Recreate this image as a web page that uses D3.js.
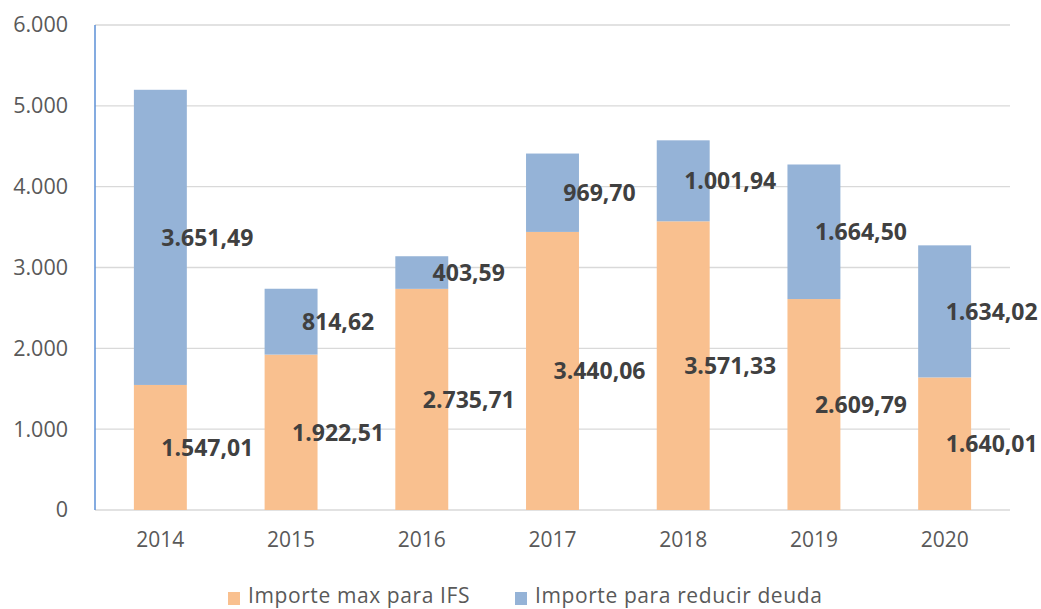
<!DOCTYPE html>
<html><head><meta charset="utf-8">
<script src="https://cdn.jsdelivr.net/npm/d3@7"></script>
<style>body{margin:0;background:#fff;} svg{display:block;}</style>
</head><body>
<svg id="c" width="1041" height="609"></svg>
<script>
const years = ["2014","2015","2016","2017","2018","2019","2020"];
const importeIFS = [1547.01, 1922.51, 2735.71, 3440.06, 3571.33, 2609.79, 1640.01];
const importeDeuda = [3651.49, 814.62, 403.59, 969.70, 1001.94, 1664.50, 1634.02];
const yTicks = [0, 1000, 2000, 3000, 4000, 5000, 6000];
const seriesNames = ["Importe max para IFS", "Importe para reducir deuda"];
const colors = ["#f9c08f", "#95b3d7"];

const svg = d3.select("#c");
const x0 = 95, x1 = 1010, yTop = 25, yBot = 510;
const x = d3.scaleBand().domain(years).range([x0, x1]).paddingInner(0.595).paddingOuter(0.2975);
const y = d3.scaleLinear().domain([0, 6000]).range([yBot, yTop]);

const fmtTick = d => d3.format(",")(d).replace(/,/g, ".");
const fmtVal = v => {
  const s = v.toFixed(2).split(".");
  return s[0].replace(/\B(?=(\d{3})+(?!\d))/g, ".") + "," + s[1];
};

// gridlines
svg.append("g").selectAll("line").data(yTicks).join("line")
  .attr("x1", x0).attr("x2", x1)
  .attr("y1", d => y(d)).attr("y2", d => y(d))
  .attr("stroke", "#d9d9d9").attr("stroke-width", 1.3);

// y tick labels
const yAxis = d3.axisLeft(y).tickValues(yTicks).tickFormat(fmtTick).tickSize(0).tickPadding(27);
const gy = svg.append("g").attr("transform", `translate(${x0},0)`).call(yAxis);
gy.select(".domain").remove();
gy.selectAll("text").attr("font-family", "Open Sans").attr("font-size", 21.5).attr("fill", "#595959");

// x labels
const xAxis = d3.axisBottom(x).tickSize(0).tickPadding(22);
const gx = svg.append("g").attr("transform", `translate(0,${yBot})`).call(xAxis);
gx.select(".domain").remove();
gx.selectAll("text").attr("font-family", "Open Sans").attr("font-size", 21).attr("fill", "#595959");

// bars
const stackData = years.map((yr, i) => ({ year: yr, ifs: importeIFS[i], deuda: importeDeuda[i] }));
const stack = d3.stack().keys(["ifs", "deuda"])(stackData);
const gBars = svg.append("g");
stack.forEach((layer, li) => {
  gBars.selectAll(null).data(layer).join("rect")
    .attr("x", d => x(d.data.year))
    .attr("width", x.bandwidth())
    .attr("y", d => y(d[1]))
    .attr("height", d => y(d[0]) - y(d[1]))
    .attr("fill", colors[li]);
});

// axis line (blue)
svg.append("line").attr("x1", x0).attr("x2", x0).attr("y1", yTop).attr("y2", yBot)
  .attr("stroke", "#5b8fd6").attr("stroke-width", 1.5);

// labels
const labelDx = 47;
stack.forEach((layer, li) => {
  svg.append("g").selectAll("text").data(layer).join("text")
    .attr("x", d => x(d.data.year) + x.bandwidth() / 2 + labelDx)
    .attr("y", d => (y(d[0]) + y(d[1])) / 2)
    .attr("dy", "0.36em")
    .attr("text-anchor", "middle")
    .attr("font-family", "Open Sans").attr("font-weight", "bold").attr("font-size", 23)
    .attr("fill", "#404040")
    .text(d => fmtVal(d[1] - d[0]));
});

// legend
const legendX = [228, 515];
const lg = svg.append("g");
seriesNames.forEach((n, i) => {
  lg.append("rect").attr("x", legendX[i]).attr("y", 592).attr("width", 12).attr("height", 13).attr("fill", colors[i]);
  lg.append("text").attr("x", legendX[i] + 20).attr("y", 603)
    .attr("font-family", "Open Sans").attr("font-size", 21).attr("letter-spacing", 0.6)
    .attr("fill", "#595959").text(n);
});
</script>
</body></html>
